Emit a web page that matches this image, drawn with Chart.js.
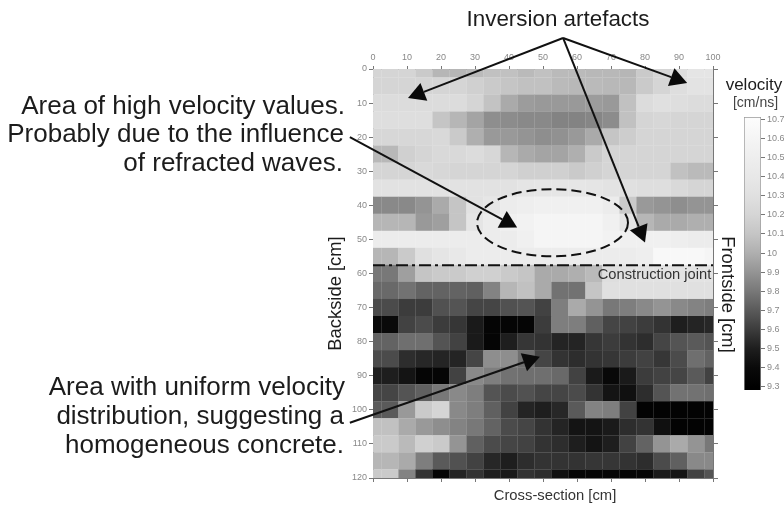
<!DOCTYPE html>
<html>
<head>
<meta charset="utf-8">
<title>Velocity tomogram</title>
<script src="https://cdn.jsdelivr.net/npm/chart.js@4"></script>
<style>
  html, body { margin: 0; padding: 0; background: #fff; }
  #wrap { position: relative; width: 784px; height: 505px; overflow: hidden; }
  #myChart { position: absolute; left: 0; top: 0; filter: blur(0.4px); }
  #scaleChart { position: absolute; left: 720px; top: 100px; filter: blur(0.4px); }
</style>
</head>
<body>
<div id="wrap">
  <canvas id="myChart" width="784" height="505"></canvas>
  <canvas id="scaleChart" width="64" height="310"></canvas>
</div>
<script>
// cell centres in cm
const crossSection = [0,5,10,15,20,25,30,35,40,45,50,55,60,65,70,75,80,85,90,95,100]
const depth = [0,5,10,15,20,25,30,35,40,45,50,55,60,65,70,75,80,85,90,95,100,105,110,115,120]

// velocity in cm/ns, one row per depth
const row0 = [10.20,10.20,10.20,10.13,10.03,10.03,10.05,10.08,10.08,10.05,10.08,10.05,10.05,10.04,10.04,10.03,10.13,10.20,10.28,10.36,10.36]
const row1 = [10.20,10.20,10.20,10.20,10.20,10.20,10.17,10.13,10.10,10.08,10.08,10.05,10.04,10.05,10.04,10.04,10.13,10.20,10.28,10.34,10.34]
const row2 = [10.26,10.26,10.26,10.26,10.26,10.26,10.20,10.09,9.98,9.93,9.92,9.92,9.92,9.93,9.92,10.08,10.26,10.30,10.28,10.26,10.26]
const row3 = [10.28,10.28,10.28,10.28,10.10,10.03,9.96,9.88,9.87,9.86,9.86,9.84,9.84,9.85,9.87,10.08,10.20,10.22,10.20,10.20,10.20]
const row4 = [10.22,10.22,10.22,10.22,10.24,10.13,10.00,9.92,9.92,9.90,9.88,9.89,9.92,9.98,10.10,10.15,10.20,10.20,10.20,10.20,10.20]
const row5 = [10.04,10.04,10.17,10.20,10.24,10.24,10.26,10.22,10.03,9.98,9.96,9.96,10.00,10.13,10.20,10.20,10.20,10.20,10.20,10.20,10.20]
const row6 = [10.20,10.20,10.20,10.24,10.22,10.20,10.20,10.20,10.20,10.17,10.17,10.17,10.13,10.17,10.20,10.20,10.20,10.20,10.08,10.05,10.05]
const row7 = [10.32,10.32,10.32,10.32,10.32,10.32,10.32,10.32,10.32,10.36,10.38,10.38,10.38,10.36,10.34,10.30,10.28,10.28,10.24,10.20,10.20]
const row8 = [9.86,9.86,9.86,9.90,9.98,10.10,10.32,10.38,10.46,10.50,10.53,10.53,10.53,10.53,10.46,10.13,9.92,9.90,9.88,9.90,9.90]
const row9 = [10.03,10.03,10.03,9.92,9.94,10.10,10.36,10.46,10.53,10.56,10.60,10.60,10.60,10.60,10.53,10.36,10.03,9.98,9.98,10.00,10.00]
const row10 = [10.46,10.46,10.46,10.46,10.46,10.46,10.46,10.46,10.46,10.53,10.60,10.60,10.60,10.60,10.56,10.53,10.53,10.53,10.50,10.46,10.46]
const row11 = [10.03,10.03,10.13,10.30,10.36,10.40,10.46,10.46,10.46,10.46,10.46,10.46,10.46,10.46,10.46,10.46,10.50,10.64,10.64,10.64,10.60]
const row12 = [9.80,9.80,9.94,10.10,10.13,10.13,10.17,10.17,10.13,10.10,9.98,9.98,10.00,10.05,10.28,10.30,10.32,10.32,10.34,10.34,10.34]
const row13 = [9.75,9.75,9.78,9.73,9.73,9.73,9.72,9.84,10.03,10.08,9.98,9.78,9.78,10.10,10.30,10.30,10.30,10.30,10.30,10.30,10.30]
const row14 = [9.65,9.65,9.60,9.60,9.67,9.68,9.63,9.63,9.67,9.68,9.62,9.82,9.98,9.90,9.80,9.82,9.86,9.90,9.86,9.84,9.82]
const row15 = [9.40,9.40,9.62,9.65,9.60,9.58,9.48,9.35,9.35,9.35,9.60,9.82,9.82,9.72,9.63,9.62,9.60,9.57,9.50,9.52,9.53]
const row16 = [9.73,9.73,9.77,9.77,9.68,9.62,9.48,9.35,9.50,9.58,9.57,9.52,9.52,9.58,9.60,9.57,9.55,9.63,9.68,9.70,9.68]
const row17 = [9.65,9.65,9.55,9.53,9.52,9.52,9.63,9.88,9.88,9.77,9.63,9.57,9.55,9.57,9.58,9.60,9.62,9.58,9.65,9.77,9.73]
const row18 = [9.50,9.50,9.45,9.35,9.35,9.62,9.86,9.82,9.78,9.77,9.77,9.75,9.62,9.48,9.38,9.48,9.60,9.62,9.63,9.70,9.62]
const row19 = [9.63,9.63,9.68,9.72,9.80,9.86,9.82,9.68,9.65,9.67,9.63,9.63,9.65,9.57,9.45,9.43,9.55,9.68,9.78,9.78,9.77]
const row20 = [9.70,9.70,9.92,10.13,10.20,9.86,9.82,9.72,9.62,9.52,9.50,9.53,9.70,9.84,9.82,9.62,9.33,9.33,9.33,9.33,9.33]
const row21 = [10.08,10.08,9.98,9.92,9.88,9.84,9.80,9.73,9.65,9.63,9.57,9.52,9.45,9.45,9.48,9.55,9.57,9.43,9.33,9.33,9.33]
const row22 = [10.13,10.13,10.05,10.17,10.13,9.90,9.72,9.65,9.63,9.62,9.57,9.55,9.50,9.45,9.50,9.62,9.73,9.90,9.98,9.90,9.80]
const row23 = [10.03,10.03,9.98,9.82,9.70,9.67,9.62,9.53,9.50,9.55,9.57,9.57,9.57,9.58,9.58,9.57,9.55,9.65,9.72,9.86,9.86]
const row24 = [10.13,10.13,9.84,9.57,9.35,9.52,9.57,9.50,9.48,9.57,9.55,9.43,9.35,9.35,9.35,9.35,9.35,9.48,9.45,9.62,9.68]
const velocityRows = [row0,row1,row2,row3,row4,row5,row6,row7,row8,row9,row10,row11,row12,row13,row14,row15,row16,row17,row18,row19,row20,row21,row22,row23,row24]

// grey ramp of the colour bar
const rampVelocity = [9.3,9.4,9.5,9.6,9.7,9.8,9.9,10,10.1,10.2,10.3,10.4,10.5,10.6,10.7]
const rampGrey = [0,10,30,60,90,120,148,175,197,213,224,232,238,245,252]
const scaleTicks = [9.3,9.4,9.5,9.6,9.7,9.8,9.9,10,10.1,10.2,10.3,10.4,10.5,10.6,10.7]

const jointX = [0,100]
const jointY = [57.6,57.6]

const greyOf = (v) => {
  let i = 0
  while (i < rampVelocity.length - 2 && v > rampVelocity[i + 1]) i++
  const t = (v - rampVelocity[i]) / (rampVelocity[i + 1] - rampVelocity[i])
  const g = Math.round(rampGrey[i] + t * (rampGrey[i + 1] - rampGrey[i]))
  return `rgb(${g},${g},${g})`
}

const cells = []
const cellColors = []
velocityRows.forEach((row, r) => {
  row.forEach((v, c) => {
    cells.push({ x: crossSection[c], y: depth[r] })
    cellColors.push(greyOf(v))
  })
})

const arrow = (ctx, x0, y0, x1, y1) => {
  const a = Math.atan2(y1 - y0, x1 - x0)
  const len = 17, half = 9.5
  const bx = x1 - Math.cos(a) * len
  const by = y1 - Math.sin(a) * len
  ctx.beginPath()
  ctx.moveTo(x0, y0)
  ctx.lineTo(bx, by)
  ctx.lineWidth = 2
  ctx.stroke()
  ctx.beginPath()
  ctx.moveTo(x1, y1)
  ctx.lineTo(bx - Math.sin(a) * half, by + Math.cos(a) * half)
  ctx.lineTo(bx + Math.sin(a) * half, by - Math.cos(a) * half)
  ctx.closePath()
  ctx.fill()
}

const label = (ctx, text, x, y, size, align, color, rot) => {
  ctx.save()
  ctx.translate(x, y)
  if (rot) ctx.rotate(rot)
  ctx.font = `${size}px "Liberation Sans"`
  ctx.textAlign = align
  ctx.textBaseline = 'middle'
  ctx.fillStyle = color
  ctx.fillText(text, 0, 0)
  ctx.restore()
}

const annotations = {
  id: 'annotations',
  afterDraw(chart) {
    const { ctx, scales } = chart
    const px = (v) => scales.x.getPixelForValue(v)
    const py = (v) => scales.y.getPixelForValue(v)
    ctx.save()
    ctx.strokeStyle = '#111'
    ctx.fillStyle = '#0a0a0a'

    // dashed ellipse around the fast zone
    ctx.beginPath()
    ctx.setLineDash([10, 5])
    ctx.lineWidth = 2
    ctx.ellipse(px(52.8), py(45.1), px(22.2) - px(0), py(9.85) - py(0), 0, 0, Math.PI * 2)
    ctx.stroke()
    ctx.setLineDash([])

    arrow(ctx, px(55.9), py(-9.1), px(10.3), py(8.5))
    arrow(ctx, px(55.9), py(-9.1), px(92.4), py(4.1))
    arrow(ctx, px(55.9), py(-9.1), px(80), py(50.9))
    arrow(ctx, px(-6.8), py(20), px(42.4), py(46.5))
    arrow(ctx, px(-6.8), py(103.8), px(49.1), py(84.4))

    const dark = '#1c1c1c'
    label(ctx, 'Inversion artefacts', 558, 20, 22.4, 'center', dark)
    label(ctx, 'Area of high velocity values.', 345, 107, 26, 'right', dark)
    label(ctx, 'Probably due to the influence', 344, 135, 26, 'right', dark)
    label(ctx, 'of refracted waves.', 343, 164, 26, 'right', dark)
    label(ctx, 'Area with uniform velocity', 345, 388, 26, 'right', dark)
    label(ctx, 'distribution, suggesting a', 344, 417, 26, 'right', dark)
    label(ctx, 'homogeneous concrete.', 344, 446, 26, 'right', dark)
    label(ctx, 'Construction joint', 654.5, 275, 14.7, 'center', '#333')
    label(ctx, 'Backside [cm]', 335.5, 293.5, 18.4, 'center', dark, -Math.PI / 2)
    label(ctx, 'Frontside [cm]', 727, 294.5, 18.4, 'center', dark, Math.PI / 2)
    label(ctx, 'velocity', 754, 85, 17, 'center', dark)
    label(ctx, '[cm/ns]', 755.5, 103, 14, 'center', '#444')
    label(ctx, 'Cross-section [cm]', 555, 496, 14.8, 'center', '#333')
    ctx.restore()
  }
}

const axisGrey = '#777'
const tickGrey = '#888'
const tickFont = { family: 'Liberation Sans', size: 9 }

new Chart(document.getElementById('myChart'), {
  type: 'scatter',
  plugins: [annotations],
  data: {
    datasets: [
      {
        order: 1,
        data: cells,
        pointStyle: 'rect',
        pointRadius: 12.2,
        pointBorderWidth: 0,
        pointBackgroundColor: cellColors
      },
      {
        order: 0,
        data: jointX.map((x, i) => ({ x, y: jointY[i] })),
        showLine: true,
        pointRadius: 0,
        borderColor: '#111',
        borderWidth: 2,
        borderDash: [12, 4, 3, 4]
      }
    ]
  },
  options: {
    responsive: false,
    animation: false,
    events: [],
    devicePixelRatio: 1,
    layout: { padding: { left: 343, top: 49, right: 65, bottom: 0 } },
    plugins: { legend: { display: false }, tooltip: { enabled: false } },
    scales: {
      x: {
        type: 'linear',
        position: 'top',
        min: 0,
        max: 100,
        afterFit: (s) => { s.height = 20 },
        border: { color: axisGrey },
        grid: { drawOnChartArea: false, tickLength: 3, color: axisGrey },
        ticks: { stepSize: 10, maxRotation: 0, padding: 3, color: tickGrey, font: tickFont }
      },
      y: {
        type: 'linear',
        reverse: true,
        min: 0,
        max: 120,
        afterFit: (s) => { s.width = 30 },
        border: { color: axisGrey },
        grid: { drawOnChartArea: false, tickLength: 4, color: axisGrey },
        ticks: { stepSize: 10, padding: 2, color: tickGrey, font: tickFont }
      },
      xBottom: {
        type: 'linear',
        axis: 'x',
        position: 'bottom',
        min: 0,
        max: 100,
        afterFit: (s) => { s.height = 27 },
        border: { color: axisGrey },
        grid: { drawOnChartArea: false, tickLength: 4, color: axisGrey },
        ticks: { stepSize: 10, display: false }
      },
      yRight: {
        type: 'linear',
        axis: 'y',
        position: 'right',
        reverse: true,
        min: 0,
        max: 120,
        afterFit: (s) => { s.width = 6 },
        border: { color: axisGrey },
        grid: { drawOnChartArea: false, tickLength: 5, color: axisGrey },
        ticks: { stepSize: 10, display: false }
      }
    }
  }
})

new Chart(document.getElementById('scaleChart'), {
  type: 'bar',
  data: {
    labels: ['velocity'],
    datasets: [{
      data: [[9.283, 10.712]],
      barPercentage: 1,
      categoryPercentage: 1,
      borderWidth: 1,
      borderColor: '#999',
      backgroundColor: (context) => {
        const { chart } = context
        const s = chart.scales.y
        if (!s || !chart.chartArea) return '#888'
        const g = chart.ctx.createLinearGradient(0, s.getPixelForValue(9.3), 0, s.getPixelForValue(10.7))
        rampVelocity.forEach((v, i) => g.addColorStop((v - 9.3) / 1.4, greyOf(v)))
        return g
      }
    }]
  },
  options: {
    responsive: false,
    animation: false,
    events: [],
    devicePixelRatio: 1,
    layout: { padding: { left: 24, top: 17, right: 0, bottom: 20 } },
    plugins: { legend: { display: false }, tooltip: { enabled: false } },
    scales: {
      x: { display: false },
      y: {
        position: 'right',
        min: 9.283,
        max: 10.712,
        afterBuildTicks: (s) => { s.ticks = scaleTicks.map((value) => ({ value })) },
        afterFit: (s) => { s.width = 23 },
        border: { display: false },
        grid: { drawOnChartArea: false, tickLength: 4, color: axisGrey },
        ticks: { padding: 2, color: tickGrey, font: tickFont, autoSkip: false, callback: (v) => String(v) }
      }
    }
  }
})
</script>
</body>
</html>
